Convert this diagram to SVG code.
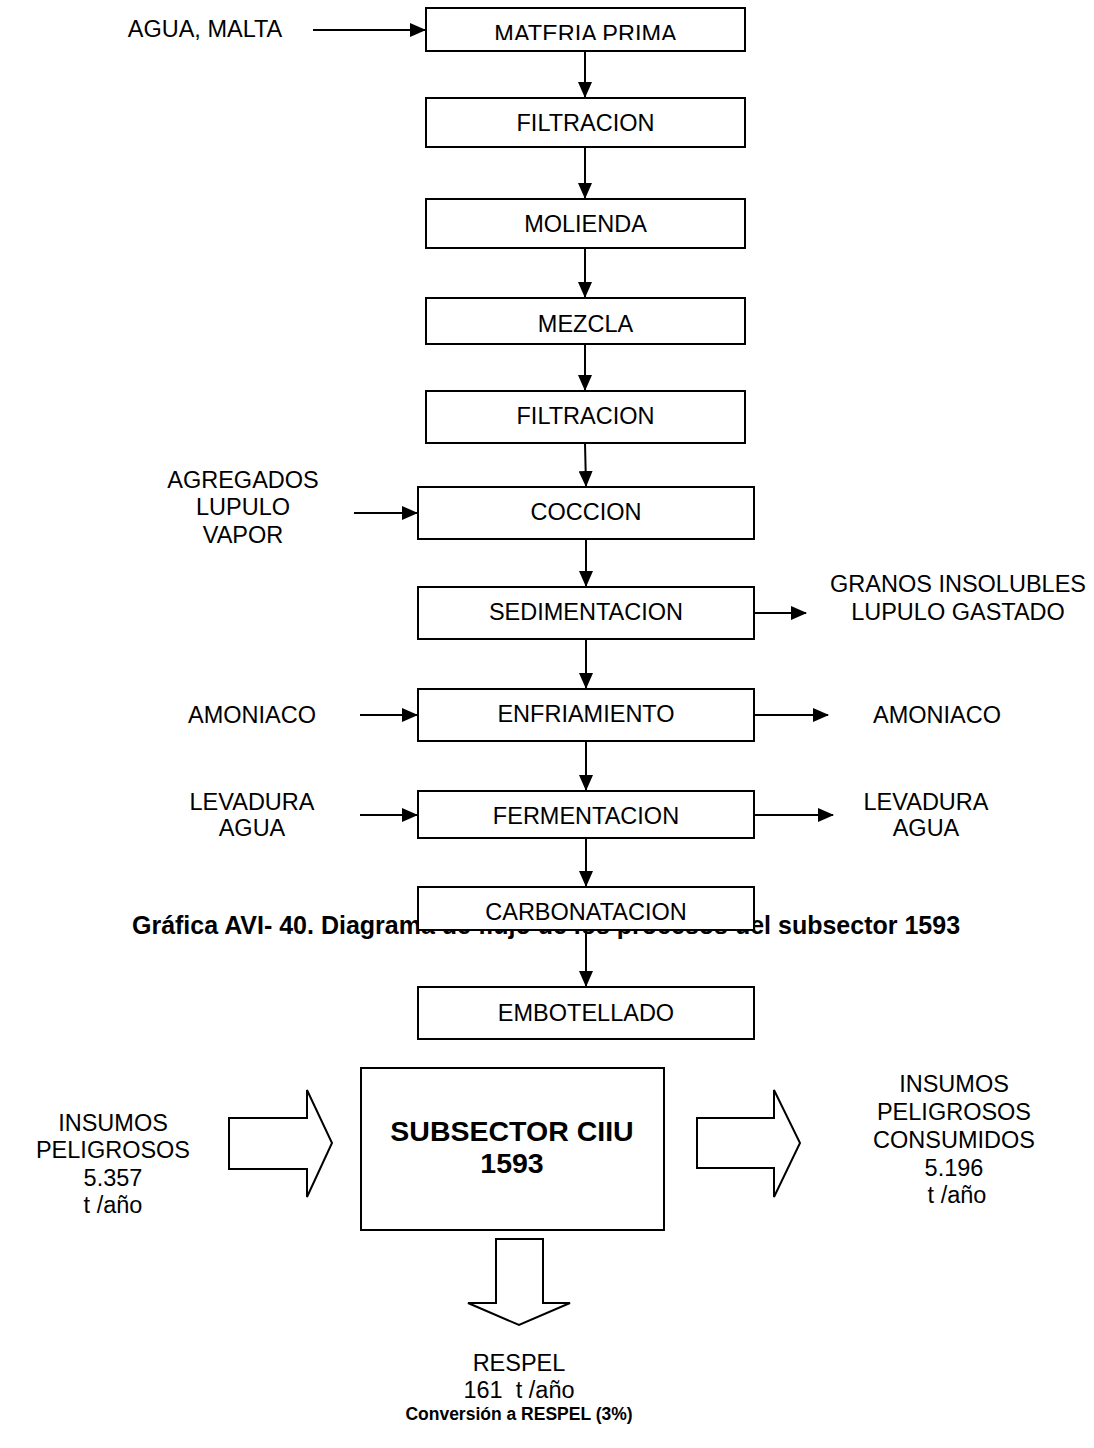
<svg xmlns="http://www.w3.org/2000/svg" width="1094" height="1448" viewBox="0 0 1094 1448">
<defs>
<style>
.box{fill:#fff;stroke:#000;stroke-width:2}
.t{font-family:"Liberation Sans",Arial,sans-serif;font-size:23.5px;fill:#000;text-anchor:middle}
.b{font-family:"Liberation Sans",Arial,sans-serif;font-weight:bold;fill:#000;text-anchor:middle}
.ln{stroke:#000;stroke-width:2;fill:none}
.blk{fill:#fff;stroke:#000;stroke-width:2;stroke-linejoin:miter}
</style>
<marker id="ah" markerWidth="8" markerHeight="7" refX="7.5" refY="3.5" orient="auto" markerUnits="strokeWidth">
<path d="M0,0 L8,3.5 L0,7 Z" fill="#000"/>
</marker>
<clipPath id="clipMP"><rect x="426" y="8" width="319" height="32"/></clipPath>
</defs>
<rect width="1094" height="1448" fill="#fff"/>

<g id="caption">
<text class="b" x="546" y="934" font-size="25">Gráfica AVI- 40. Diagrama de flujo de los procesos del subsector 1593</text>
</g>

<g id="connectors">
<line class="ln" x1="313" y1="30" x2="425" y2="30" marker-end="url(#ah)"/>
<line class="ln" x1="585" y1="51" x2="585" y2="97" marker-end="url(#ah)"/>
<line class="ln" x1="585" y1="147" x2="585" y2="198" marker-end="url(#ah)"/>
<line class="ln" x1="585" y1="248" x2="585" y2="297" marker-end="url(#ah)"/>
<line class="ln" x1="585" y1="344" x2="585" y2="390" marker-end="url(#ah)"/>
<line class="ln" x1="585" y1="443" x2="586" y2="486" marker-end="url(#ah)"/>
<line class="ln" x1="354" y1="513" x2="417" y2="513" marker-end="url(#ah)"/>
<line class="ln" x1="586" y1="539" x2="586" y2="586" marker-end="url(#ah)"/>
<line class="ln" x1="754" y1="613" x2="806" y2="613" marker-end="url(#ah)"/>
<line class="ln" x1="586" y1="639" x2="586" y2="688" marker-end="url(#ah)"/>
<line class="ln" x1="360" y1="715" x2="417" y2="715" marker-end="url(#ah)"/>
<line class="ln" x1="754" y1="715" x2="828" y2="715" marker-end="url(#ah)"/>
<line class="ln" x1="586" y1="741" x2="586" y2="790" marker-end="url(#ah)"/>
<line class="ln" x1="360" y1="815" x2="417" y2="815" marker-end="url(#ah)"/>
<line class="ln" x1="754" y1="815" x2="833" y2="815" marker-end="url(#ah)"/>
<line class="ln" x1="586" y1="838" x2="586" y2="886" marker-end="url(#ah)"/>
<line class="ln" x1="586" y1="930" x2="586" y2="986" marker-end="url(#ah)"/>
<polygon class="blk" points="229,1118 307,1118 307,1090 332,1143 307,1197 307,1169 229,1169"/>
<polygon class="blk" points="697,1118 774,1118 774,1090 800,1143 774,1197 774,1168 697,1168"/>
<polygon class="blk" points="496,1239 543,1239 543,1303 570,1303 519,1325 468,1303 496,1303"/>
</g>

<g id="n-materia"><rect class="box" x="426" y="8" width="319" height="43"/><text class="t" x="585.5" y="42" clip-path="url(#clipMP)">MATERIA PRIMA</text></g>
<g id="n-filtracion1"><rect class="box" x="426" y="98" width="319" height="49"/><text class="t" x="585.5" y="131">FILTRACION</text></g>
<g id="n-molienda"><rect class="box" x="426" y="199" width="319" height="49"/><text class="t" x="585.5" y="232">MOLIENDA</text></g>
<g id="n-mezcla"><rect class="box" x="426" y="298" width="319" height="46"/><text class="t" x="585.5" y="332">MEZCLA</text></g>
<g id="n-filtracion2"><rect class="box" x="426" y="391" width="319" height="52"/><text class="t" x="585.5" y="424">FILTRACION</text></g>
<g id="n-coccion"><rect class="box" x="418" y="487" width="336" height="52"/><text class="t" x="586" y="520">COCCION</text></g>
<g id="n-sedimentacion"><rect class="box" x="418" y="587" width="336" height="52"/><text class="t" x="586" y="620">SEDIMENTACION</text></g>
<g id="n-enfriamiento"><rect class="box" x="418" y="689" width="336" height="52"/><text class="t" x="586" y="722">ENFRIAMIENTO</text></g>
<g id="n-fermentacion"><rect class="box" x="418" y="791" width="336" height="47"/><text class="t" x="586" y="824">FERMENTACION</text></g>
<g id="n-carbonatacion"><rect class="box" x="418" y="887" width="336" height="43"/><text class="t" x="586" y="920">CARBONATACION</text></g>
<g id="n-embotellado"><rect class="box" x="418" y="987" width="336" height="52"/><text class="t" x="586" y="1021">EMBOTELLADO</text></g>

<g id="l-agua-malta"><text class="t" x="205" y="37">AGUA, MALTA</text></g>
<g id="l-agregados"><text class="t" x="243" y="488">AGREGADOS</text><text class="t" x="243" y="515">LUPULO</text><text class="t" x="243" y="543">VAPOR</text></g>
<g id="l-granos"><text class="t" x="958" y="592">GRANOS INSOLUBLES</text><text class="t" x="958" y="620">LUPULO GASTADO</text></g>
<g id="l-amoniaco-in"><text class="t" x="252" y="723">AMONIACO</text></g>
<g id="l-amoniaco-out"><text class="t" x="937" y="723">AMONIACO</text></g>
<g id="l-levadura-in"><text class="t" x="252" y="810">LEVADURA</text><text class="t" x="252" y="836">AGUA</text></g>
<g id="l-levadura-out"><text class="t" x="926" y="810">LEVADURA</text><text class="t" x="926" y="836">AGUA</text></g>

<g id="n-subsector"><rect class="box" x="361" y="1068" width="303" height="162"/><text class="b" x="512" y="1141" font-size="28.5">SUBSECTOR CIIU</text><text class="b" x="512" y="1173" font-size="28.5">1593</text></g>
<g id="l-insumos"><text class="t" x="113" y="1131">INSUMOS</text><text class="t" x="113" y="1158">PELIGROSOS</text><text class="t" x="113" y="1186">5.357</text><text class="t" x="113" y="1213">t /año</text></g>
<g id="l-consumidos"><text class="t" x="954" y="1092">INSUMOS</text><text class="t" x="954" y="1120">PELIGROSOS</text><text class="t" x="954" y="1148">CONSUMIDOS</text><text class="t" x="954" y="1176">5.196</text><text class="t" x="957" y="1203">t /año</text></g>
<g id="l-respel"><text class="t" x="519" y="1371">RESPEL</text><text class="t" x="519" y="1398" xml:space="preserve">161  t /año</text><text class="b" x="519" y="1420" font-size="17.5">Conversión a RESPEL (3%)</text></g>
</svg>
